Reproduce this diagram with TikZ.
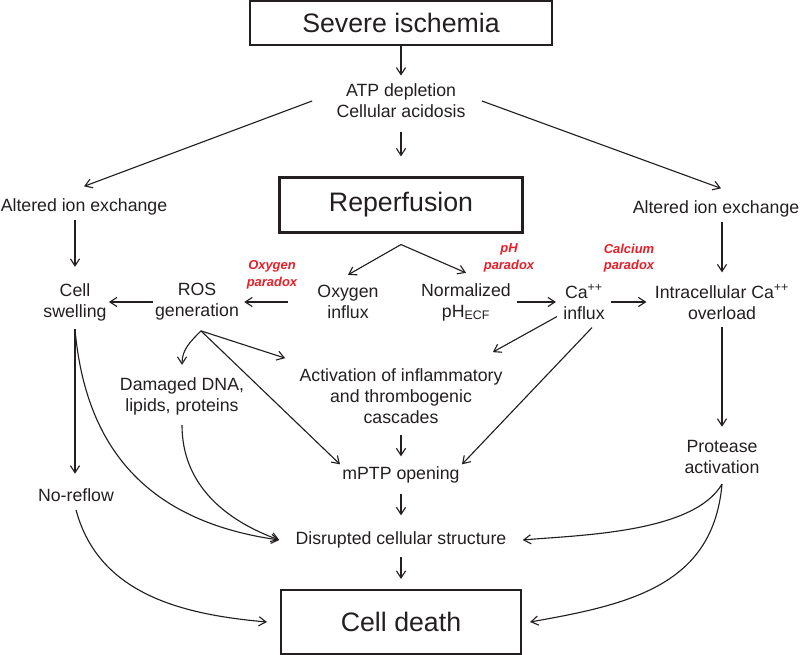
\documentclass[tikz,border=0pt]{standalone}
\usepackage{fontspec}
\setmainfont{Liberation Sans}
\usetikzlibrary{arrows.meta}
\definecolor{ink}{RGB}{35,31,32}
\definecolor{parred}{RGB}{230,30,40}

\begin{document}
\begin{tikzpicture}[x=0.025cm, y=0.025cm, color=ink,
	txt/.style={align=center, inner sep=1.5pt, font=\fontsize{12.6}{14.9}\selectfont},
	bigbox/.style={draw, line width=1.5pt, inner sep=0pt, font=\fontsize{19}{22}\selectfont},
	paradox/.style={align=center, inner sep=1pt, text=parred, font=\fontsize{9.2}{11.7}\selectfont\bfseries\itshape},
	arr/.style={line width=0.8pt, -{Straight Barb[length=5pt,width=6.5pt]}}]
	\useasboundingbox (0,0) rectangle (800,655);

	\node [bigbox, minimum width=7.55cm, minimum height=1.1cm] (isch) at (401,632) {Severe ischemia};
	\node [txt] (atp) at (401,554) {ATP depletion\\Cellular acidosis};
	\node [bigbox, minimum width=6.075cm, minimum height=1.375cm] (rep) at (401,450) {Reperfusion};
	\node [txt] (altL) at (84,448) {Altered ion exchange};
	\node [txt] (altR) at (716,446) {Altered ion exchange};

	\node [txt] (swell) at (75,353) {Cell\\swelling};
	\node [txt] (ros) at (197,353) {ROS\\generation};
	\node [txt] (oxy) at (348,353) {Oxygen\\influx};
	\node [txt] (ph) at (466,353) {Normalized\\pH\textsubscript{ECF}};
	\node [txt] (ca) at (584,353) {Ca\textsuperscript{++}\\influx};
	\node [txt] (intra) at (722,353) {Intracellular Ca\textsuperscript{++}\\overload};
	\node [paradox] (oxpar) at (272,380) {Oxygen\\paradox};
	\node [paradox] (phpar) at (509,397) {pH\\paradox};
	\node [paradox] (capar) at (629,397) {Calcium\\paradox};

	\node [txt] (dna) at (182,259) {Damaged DNA,\\lipids, proteins};
	\node [txt] (act) at (401,259) {Activation of inflammatory\\and thrombogenic\\cascades};
	\node [txt] (prot) at (722,198) {Protease\\activation};
	\node [txt] (mptp) at (401,180) {mPTP opening};
	\node [txt] (noref) at (76,160) {No-reflow};
	\node [txt] (disr) at (401,115) {Disrupted cellular structure};
	\node [bigbox, minimum width=6cm, minimum height=1.6cm] (death) at (401,33) {Cell death};

	\draw [arr, shorten >=0.15cm] (isch.south) -- (atp.north);
	\draw [arr, shorten <=0.3cm, shorten >=0.5cm] (atp) -- (rep);
	\draw [arr] ([xshift=-0.55cm]atp.west) -- ([yshift=0.25cm]altL.north);
	\draw [arr] ([xshift=0.35cm]atp.east) -- ([xshift=0.125cm, yshift=0.25cm]altR.north);
	\draw [arr, shorten <=0.07cm, shorten >=0.35cm] (altL.south -| swell.north) -- (swell.north);
	\draw [arr, shorten <=0.07cm, shorten >=0.25cm] (altR.south -| intra.north) -- (intra.north);

	\draw [arr] ([yshift=-0.275cm]rep.south) -- ([yshift=0.2cm]oxy.north);
	\draw [arr] ([yshift=-0.275cm]rep.south) -- ([yshift=0.2cm]ph.north);
	\draw [arr] (ros) -- (swell);
	\draw [arr, shorten <=0.675cm, shorten >=0.075cm] (oxy) -- (ros);
	\draw [arr, shorten <=0.1cm, shorten >=0.125cm] (ph) -- (ca);
	\draw [arr, shorten <=0.1cm, shorten >=0.15cm] (ca) -- (intra);

	\draw [arr] ([xshift=0.1cm, yshift=-0.2cm]ros.south) to [out=225, in=90] ([yshift=0.25cm]dna.north);
	\draw [arr] ([xshift=0.1cm, yshift=-0.2cm]ros.south) -- ([xshift=-0.3cm, yshift=0.2cm]act.north west);
	\draw [arr] ([xshift=0.1cm, yshift=-0.2cm]ros.south) -- (mptp.north west);
	\draw [arr] ([xshift=-0.1cm, yshift=0.125cm]ca.south west) -- ([xshift=-0.3cm, yshift=0.35cm]act.north east);
	\draw [arr] ([xshift=0.2cm, yshift=-0.15cm]ca.south) -- (mptp.north east);

	\draw [arr, shorten <=0.24cm, shorten >=0.2cm] (act) -- (mptp);
	\draw [arr, shorten <=0.2cm, shorten >=0.35cm] (mptp) -- (disr);
	\draw [arr, shorten <=0.17cm, shorten >=0.25cm] (disr) -- (death);
	\draw [arr, shorten <=0.14cm, shorten >=0.28cm] (intra.south) -- (prot.north);
	\draw [arr, shorten <=0.15cm, shorten >=0.31cm] (swell.south) -- (swell.south |- noref.north);

	\draw [arr] ([yshift=-0.15cm]swell.south) to [out=-85, in=172, looseness=1.1] ([xshift=-0.35cm]disr.west);
	\draw [arr] ([yshift=-0.2cm]dna.south) to [out=-90, in=160] ([xshift=-0.35cm]disr.west);
	\draw [arr] ([yshift=-0.15cm]noref.south) to [out=-75, in=175] ([xshift=-0.325cm]death.west);
	\draw [arr] ([yshift=-0.2cm]prot.south) to [out=-120, in=5, looseness=0.7] ([xshift=0.35cm]disr.east);
	\draw [arr] ([yshift=-0.2cm]prot.south) to [out=-95, in=10, looseness=1.1] ([xshift=0.2cm]death.east);
\end{tikzpicture}
\end{document}
